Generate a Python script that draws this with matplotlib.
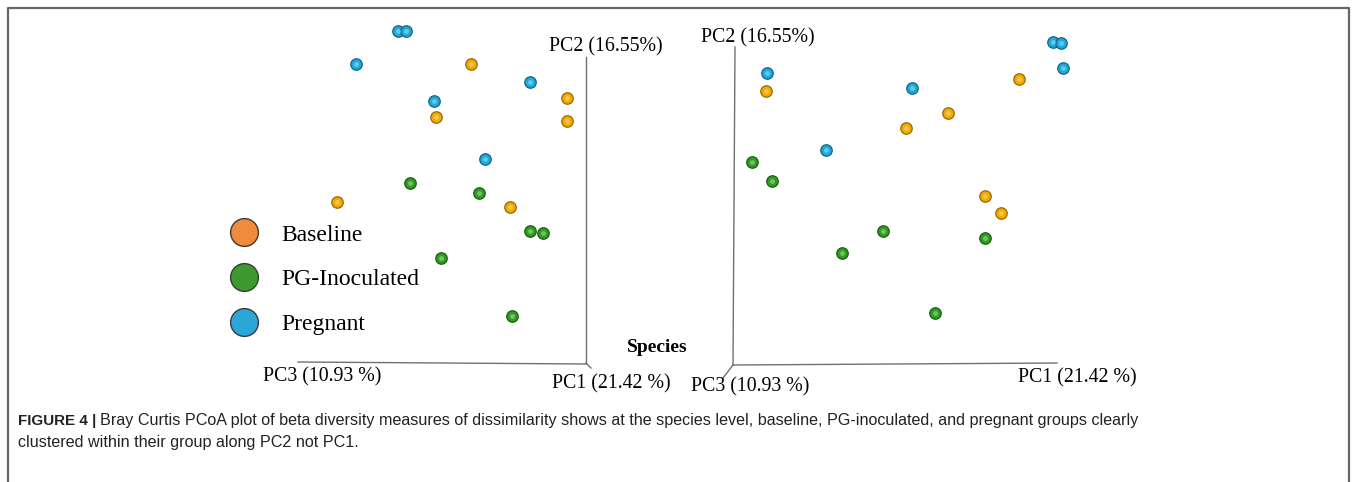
import matplotlib.pyplot as plt
from matplotlib.lines import Line2D

plt.rcParams['font.family'] = ['Liberation Serif', 'DejaVu Serif']

# PCoA projected coordinates (arbitrary units, origin = corner of the 3D axes)
groups = ['Baseline', 'PG-Inoculated', 'Pregnant']

left_baseline_x = [-1.15, -0.19, -1.50, -0.19, -2.49, -0.76]
left_baseline_y = [2.99, 2.65, 2.46, 2.42, 1.61, 1.56]
left_pg_x = [-1.76, -1.07, -0.56, -0.43, -1.45, -0.74]
left_pg_y = [1.80, 1.70, 1.32, 1.30, 1.05, 0.47]
left_preg_x = [-1.88, -1.80, -2.30, -0.56, -1.52, -1.01]
left_preg_y = [3.32, 3.32, 2.99, 2.81, 2.62, 2.04]

right_baseline_x = [2.86, 0.33, 2.15, 1.73, 2.52, 2.68]
right_baseline_y = [2.86, 2.74, 2.52, 2.37, 1.69, 1.52]
right_pg_x = [0.19, 0.39, 1.50, 2.52, 1.09, 2.02]
right_pg_y = [2.03, 1.84, 1.34, 1.27, 1.12, 0.52]
right_preg_x = [3.20, 3.28, 3.30, 0.34, 1.79, 0.93]
right_preg_y = [3.23, 3.22, 2.97, 2.92, 2.77, 2.15]

pc1_label = 'PC1 (21.42 %)'
pc2_label = 'PC2 (16.55%)'
pc3_label = 'PC3 (10.93 %)'

colors = {'Baseline': '#F2A900', 'PG-Inoculated': '#2E9E1E', 'Pregnant': '#1FA9DA'}
edges = {'Baseline': '#9A6A00', 'PG-Inoculated': '#1A5E12', 'Pregnant': '#10658A'}
legend_colors = {'Baseline': '#F08A3C', 'PG-Inoculated': '#3C9A2E', 'Pregnant': '#2BA6D6'}

W, H = 1357, 482
fig = plt.figure(figsize=(W / 100, H / 100), dpi=100)

# overlay in pixel units for frame, axis lines and labels
deco = fig.add_axes([0, 0, 1, 1])
deco.set_xlim(0, W)
deco.set_ylim(H, 0)
deco.axis('off')

# figure frame (open at bottom)
deco.plot([8, 8, 1349, 1349], [H, 8, 8, H], color='#666666', lw=1.6)

# left panel 3D axes
ax_col = '#707070'
deco.plot([586, 586], [57, 363], color=ax_col, lw=1)
deco.plot([298, 586], [362, 364], color=ax_col, lw=1)
deco.plot([586, 591], [363, 368], color=ax_col, lw=1)
deco.text(549, 47, pc2_label, fontsize=14.3, va='center', ha='left')
deco.text(263, 377, pc3_label, fontsize=14.3, va='center', ha='left')
deco.text(552, 384, pc1_label, fontsize=14.3, va='center', ha='left')

# right panel 3D axes
deco.plot([735, 733], [47, 365], color=ax_col, lw=1)
deco.plot([733, 1057], [365, 363], color=ax_col, lw=1)
deco.plot([733, 723], [365, 378], color=ax_col, lw=1)
deco.text(701, 38, pc2_label, fontsize=14.3, va='center', ha='left')
deco.text(691, 387, pc3_label, fontsize=14.3, va='center', ha='left')
deco.text(1018, 378, pc1_label, fontsize=14.3, va='center', ha='left')

deco.text(657, 348, 'Species', fontsize=14, fontweight='bold', ha='center', va='center')

# caption
cap_font = ['Liberation Sans', 'DejaVu Sans']
deco.text(18, 421, 'FIGURE 4 |', fontsize=10.9, fontweight='bold', family=cap_font,
          va='center', ha='left', color='#222222')
deco.text(100, 421, 'Bray Curtis PCoA plot of beta diversity measures of dissimilarity shows at the '
          'species level, baseline, PG-inoculated, and pregnant groups clearly',
          fontsize=11.6, family=cap_font, va='center', ha='left', color='#222222')
deco.text(18, 443, 'clustered within their group along PC2 not PC1.', fontsize=11.6,
          family=cap_font, va='center', ha='left', color='#222222')


def panel(ox, oy):
    ax = fig.add_axes([0, 0, 1, 1])
    ax.set_xlim((0 - ox) / 100, (W - ox) / 100)
    ax.set_ylim((oy - H) / 100, oy / 100)
    ax.axis('off')
    ax.patch.set_alpha(0)
    return ax


left = panel(586, 363)
right = panel(733, 365)

left_data = [(left_baseline_x, left_baseline_y), (left_pg_x, left_pg_y), (left_preg_x, left_preg_y)]
right_data = [(right_baseline_x, right_baseline_y), (right_pg_x, right_pg_y), (right_preg_x, right_preg_y)]

for ax, data in [(left, left_data), (right, right_data)]:
    for g, (xs, ys) in zip(groups, data):
        ax.scatter(xs, ys, s=68, color=colors[g], edgecolors=edges[g], linewidths=0.9, zorder=3)
        # small highlight to mimic the shaded spheres
        ax.scatter(xs, ys, s=12, color='white', alpha=0.35, linewidths=0, zorder=4)

handles = [Line2D([], [], ls='', marker='o', markersize=20, markerfacecolor=legend_colors[g],
                  markeredgecolor='#3a3a3a', markeredgewidth=1.0) for g in groups]
deco.legend(handles, groups, loc='upper left', bbox_to_anchor=(220 / W, 1 - 224 / H),
            frameon=False, fontsize=17, labelspacing=0.98, handletextpad=0.6,
            borderaxespad=0, borderpad=0)

fig.savefig('out.png', dpi=100)
